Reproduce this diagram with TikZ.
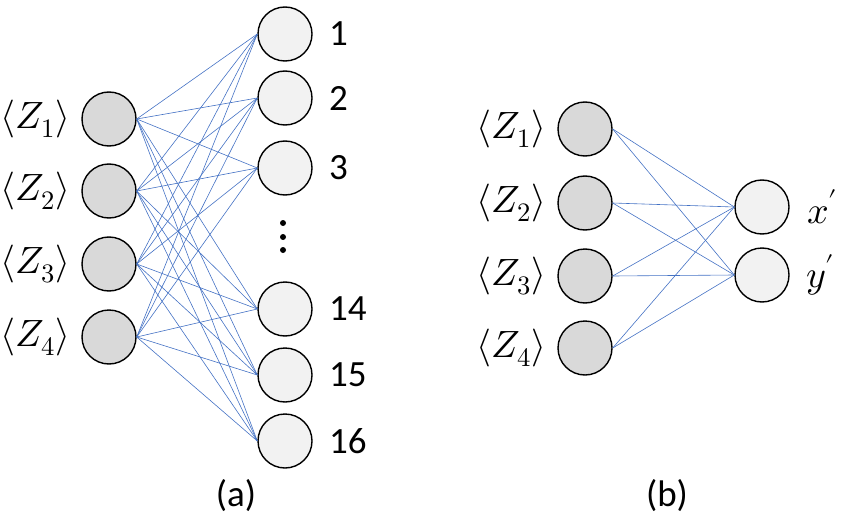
\documentclass[tikz,border=0pt]{standalone}
\usepackage{fontspec}
\usepackage{unicode-math}
\setmainfont{Carlito}
\setmathfont{Latin Modern Math}
\begin{document}
\begin{tikzpicture}[x=1pt,y=-1pt,
  inp/.style={circle,draw=black,line width=1.4pt,fill=black!15,minimum size=54pt,inner sep=0pt},
  outp/.style={circle,draw=black,line width=1.4pt,fill=black!5,minimum size=54pt,inner sep=0pt},
  conn/.style={draw={rgb,255:red,68;green,114;blue,196},line width=0.6pt},
  lbl/.style={inner sep=0pt,font=\fontsize{37}{40}\selectfont},
  mlbl/.style={inner sep=0pt,font=\fontsize{38}{40}\selectfont},
  dot/.style={circle,fill=black,inner sep=0pt,minimum size=6pt}]
\useasboundingbox (0,0) rectangle (848,524);
% (a)
\foreach \i/\y in {1/119,2/191,3/264,4/337}{
  \node[inp] (a\i) at (109,\y) {};
  \node[mlbl,anchor=east] (az\i) at (70,\y) {$\langle Z_{\i}\rangle$};
}
\foreach \j/\y in {1/34,2/98,3/168,14/309,15/375,16/441}{
  \node[outp] (o\j) at (285,\y) {};
  \node[lbl,anchor=west] (ol\j) at (329,\y) {\j};
}
\node[dot] (d1) at (283,223) {};
\node[dot] (d2) at (283,237) {};
\node[dot] (d3) at (283,250) {};
\foreach \i in {1,2,3,4}{
  \foreach \j in {1,2,3,14,15,16}{
    \draw[conn] (a\i.east) -- (o\j.west);
  }
}
\node[lbl] (capa) at (236,496) {(a)};
% (b)
\foreach \i/\y in {1/129,2/203,3/276,4/348}{
  \node[inp] (b\i) at (585,\y) {};
  \node[mlbl,anchor=east] (bz\i) at (546,\y) {$\langle Z_{\i}\rangle$};
}
\node[outp] (bx) at (762,207) {};
\node[outp] (by) at (762,275) {};
\node[mlbl,anchor=west] (bxl) at (807,207) {$x'$};
\node[mlbl,anchor=west] (byl) at (806,275) {$y'$};
\foreach \i in {1,2,3,4}{
  \draw[conn] (b\i.east) -- (bx.west);
  \draw[conn] (b\i.east) -- (by.west);
}
\node[lbl] (capb) at (667,496) {(b)};
\end{tikzpicture}
\end{document}
